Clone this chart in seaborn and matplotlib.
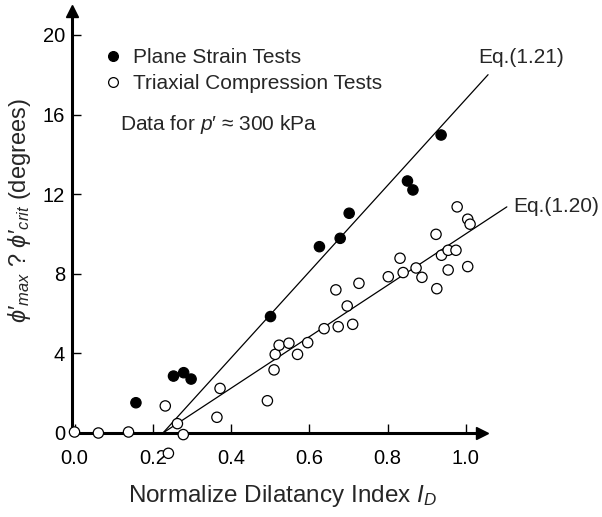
import numpy as np
import pandas as pd
import matplotlib
matplotlib.use("Agg")
import matplotlib.pyplot as plt
import seaborn as sns

# ---- data ----
plane_x = [0.157, 0.253, 0.279, 0.298, 0.501, 0.626, 0.679, 0.702, 0.851, 0.865, 0.937]
plane_y = [1.52, 2.86, 3.03, 2.71, 5.85, 9.36, 9.78, 11.04, 12.66, 12.21, 14.97]

triax_x = [0.000, 0.061, 0.138, 0.232, 0.263, 0.278, 0.240, 0.372, 0.364, 0.493,
           0.510, 0.513, 0.523, 0.548, 0.570, 0.596, 0.638, 0.674, 0.711, 0.697,
           0.668, 0.727, 0.802, 0.832, 0.840, 0.873, 0.888, 0.926, 0.924, 0.938,
           0.955, 0.975, 0.955, 1.005, 0.978, 1.005, 1.011]
triax_y = [0.05, 0.00, 0.05, 1.36, 0.47, -0.08, -1.02, 2.24, 0.79, 1.62,
           3.17, 3.95, 4.41, 4.51, 3.95, 4.54, 5.24, 5.34, 5.46, 6.38,
           7.19, 7.52, 7.85, 8.78, 8.06, 8.29, 7.82, 7.25, 9.98, 8.93,
           9.18, 9.18, 8.19, 8.36, 11.36, 10.74, 10.49]

eq121_x = [0.226, 1.057]
eq121_y = [0.0, 18.0]
eq120_x = [0.226, 1.105]
eq120_y = [0.0, 11.36]

series_names = ["Plane Strain Tests", "Triaxial Compression Tests"]
x_ticks = [0.0, 0.2, 0.4, 0.6, 0.8, 1.0]
y_ticks = [0, 4, 8, 12, 16, 20]

df = pd.DataFrame({
    "ID": plane_x + triax_x,
    "dphi": plane_y + triax_y,
    "test": [series_names[0]] * len(plane_x) + [series_names[1]] * len(triax_x),
})

# ---- style ----
sns.set_style("ticks")
plt.rcParams["font.family"] = ["Liberation Sans", "DejaVu Sans"]
plt.rcParams["mathtext.fontset"] = "custom"
plt.rcParams["mathtext.rm"] = "Liberation Sans"
plt.rcParams["mathtext.it"] = "Liberation Sans:italic"
plt.rcParams["mathtext.bf"] = "Liberation Sans:bold"

FS_TICK = 14.5
FS = 15
fig = plt.figure(figsize=(6.02, 5.17), dpi=100)
W, H = 602, 517
ax = fig.add_axes([72 / W, 84 / H, 410 / W, 422 / H])

sns.scatterplot(data=df, x="ID", y="dphi", hue="test",
                palette={series_names[0]: "black", series_names[1]: "white"},
                edgecolor="black", linewidth=0.9, s=55, ax=ax, clip_on=False,
                zorder=3)

sns.lineplot(x=eq121_x, y=eq121_y, color="black", lw=0.9, ax=ax,
             legend=False)
sns.lineplot(x=eq120_x, y=eq120_y, color="black", lw=0.9, ax=ax,
             legend=False)
for ln in ax.lines:
    ln.set_clip_on(False)

ax.set_xlim(-0.0064, 1.0415)
ax.set_ylim(0, 21.2)
ax.set_xticks(x_ticks)
ax.set_xticklabels([f"{t:.1f}" for t in x_ticks])
ax.set_yticks(y_ticks)
ax.set_yticklabels([str(t) for t in y_ticks])

for side in ["top", "right"]:
    ax.spines[side].set_visible(False)
for side in ["left", "bottom"]:
    ax.spines[side].set_linewidth(2.2)
    ax.spines[side].set_color("black")

ax.tick_params(axis="both", direction="in", length=6.5, width=1.0,
               labelsize=FS_TICK, colors="black")
ax.tick_params(axis="x", pad=11.5)
ax.tick_params(axis="y", pad=5)

# arrow heads on the axes
ax.plot([1.0], [0.0], marker=">", markersize=9, color="black",
        transform=ax.transAxes, clip_on=False)
ax.plot([0.0], [1.0], marker="^", markersize=9, color="black",
        transform=ax.transAxes, clip_on=False)

ax.set_xlabel(r"Normalize Dilatancy Index $I_D$", fontsize=17.5)
ax.xaxis.set_label_coords((282 - 72) / 410, (433 - 483) / 422)
ax.set_ylabel(r"$\phi{\prime}_{max}$ ? $\phi{\prime}_{crit}$ (degrees)",
              fontsize=17, va="center")
ax.yaxis.set_label_coords((20 - 72) / 410, (433 - 211) / 422)

ax.text(1.031, 18.84, "Eq.(1.21)", fontsize=FS, va="center", ha="left")
ax.text(1.121, 11.36, "Eq.(1.20)", fontsize=FS, va="center", ha="left")

handles, labels = ax.get_legend_handles_labels()
leg = ax.legend(handles, labels, loc="upper left", frameon=False,
                fontsize=FS, handletextpad=0.45, labelspacing=0.32,
                borderaxespad=0, handlelength=1.0,
                bbox_to_anchor=(94 / W, 1 - 40 / H),
                bbox_transform=fig.transFigure, markerscale=0.95)

fig.text(120 / W, 1 - 124 / H, "Data for $p$′ ≈ 300 kPa", fontsize=FS,
         va="center", ha="left")

fig.savefig("out.png", dpi=100)
